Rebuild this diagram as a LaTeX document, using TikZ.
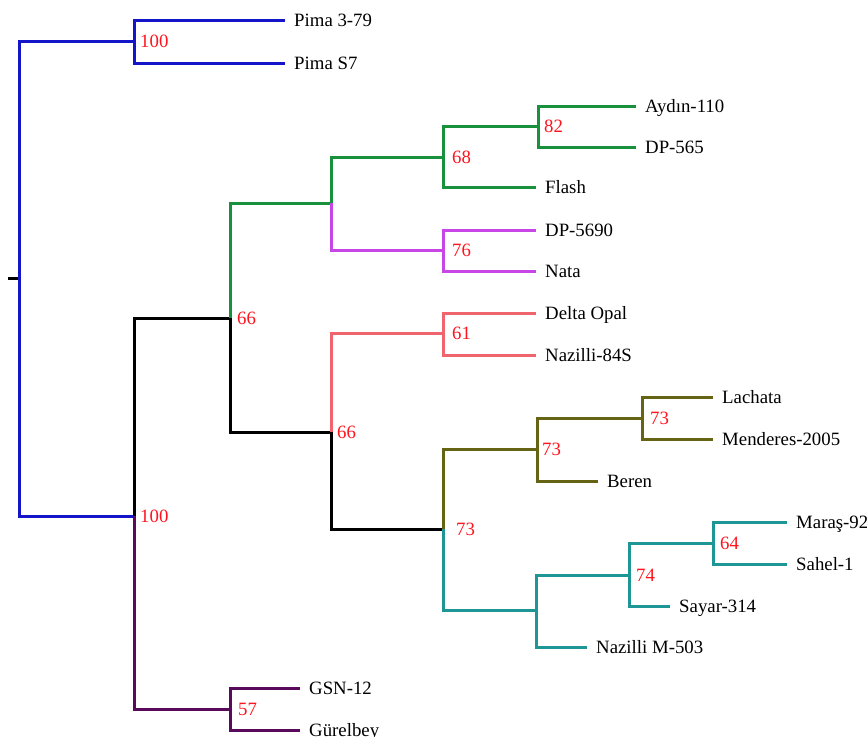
\documentclass[tikz,border=0pt]{standalone}
\usepackage{fontspec}
\setmainfont{Liberation Serif}
\definecolor{cblue}{RGB}{20,20,200}
\definecolor{cgreen}{RGB}{25,145,60}
\definecolor{cmag}{RGB}{200,70,230}
\definecolor{csalmon}{RGB}{240,100,110}
\definecolor{colive}{RGB}{100,100,20}
\definecolor{cteal}{RGB}{30,150,150}
\definecolor{cpurple}{RGB}{90,10,90}
\definecolor{cred}{RGB}{255,20,30}
\begin{document}
\begin{tikzpicture}[x=1pt,y=-1pt,
  br/.style={line width=3pt, line join=miter},
  lbl/.style={anchor=base west, inner sep=0pt, font=\fontsize{18.8}{20}\selectfont, yshift=-6pt},
  leaf/.style={lbl, xshift=9pt},
  bs/.style={lbl, text=cred, xshift=#1},
  bs/.default=7pt]
\useasboundingbox (0,0) rectangle (867,736);

% internal nodes
\coordinate (tick) at (8,278);
\coordinate (r)  at (19,278);
\coordinate (A)  at (134,41);
\coordinate (B)  at (134,516);
\coordinate (C)  at (230,318);
\coordinate (P)  at (230,709);
\coordinate (G)  at (331,203);
\coordinate (D)  at (331,432);
\coordinate (G1) at (443,157);
\coordinate (G2) at (538,126);
\coordinate (M)  at (443,250);
\coordinate (S)  at (443,333);
\coordinate (E)  at (443,529);
\coordinate (O)  at (537,449);
\coordinate (O2) at (642,418);
\coordinate (T)  at (536,610);
\coordinate (T2) at (629,575);
\coordinate (T3) at (713,543);

% leaf ends
\coordinate (l1)  at (285,20);
\coordinate (l2)  at (285,63);
\coordinate (l3)  at (636,106);
\coordinate (l4)  at (636,147);
\coordinate (l5)  at (536,187);
\coordinate (l6)  at (536,230);
\coordinate (l7)  at (536,271);
\coordinate (l8)  at (536,313);
\coordinate (l9)  at (536,355);
\coordinate (l10) at (713,397);
\coordinate (l11) at (713,439);
\coordinate (l12) at (598,481);
\coordinate (l13) at (787,522);
\coordinate (l14) at (787,564);
\coordinate (l15) at (670,606);
\coordinate (l16) at (587,647);
\coordinate (l17) at (300,688);
\coordinate (l18) at (300,730);

% branches
\draw[br,black] (tick) -- (r);
\draw[br,cblue] (r) |- (A);
\draw[br,cblue] (r) |- (B);
\draw[br,cblue] (A) |- (l1);
\draw[br,cblue] (A) |- (l2);
\draw[br,black] (B) |- (C);
\draw[br,cpurple] (B) |- (P);
\draw[br,cpurple] (P) |- (l17);
\draw[br,cpurple] (P) |- (l18);
\draw[br,cgreen] (C) |- (G);
\draw[br,black] (C) |- (D);
\draw[br,cgreen] (G) |- (G1);
\draw[br,cmag] (G) |- (M);
\draw[br,cgreen] (G1) |- (G2);
\draw[br,cgreen] (G1) |- (l5);
\draw[br,cgreen] (G2) |- (l3);
\draw[br,cgreen] (G2) |- (l4);
\draw[br,cmag] (M) |- (l6);
\draw[br,cmag] (M) |- (l7);
\draw[br,csalmon] (D) |- (S);
\draw[br,black] (D) |- (E);
\draw[br,csalmon] (S) |- (l8);
\draw[br,csalmon] (S) |- (l9);
\draw[br,colive] (E) |- (O);
\draw[br,cteal] (E) |- (T);
\draw[br,colive] (O) |- (O2);
\draw[br,colive] (O) |- (l12);
\draw[br,colive] (O2) |- (l10);
\draw[br,colive] (O2) |- (l11);
\draw[br,cteal] (T) |- (T2);
\draw[br,cteal] (T) |- (l16);
\draw[br,cteal] (T2) |- (T3);
\draw[br,cteal] (T2) |- (l15);
\draw[br,cteal] (T3) |- (l13);
\draw[br,cteal] (T3) |- (l14);

% taxon names
\node[leaf] (n1)  at (l1)  {Pima 3-79};
\node[leaf] (n2)  at (l2)  {Pima S7};
\node[leaf] (n3)  at (l3)  {Aydın-110};
\node[leaf] (n4)  at (l4)  {DP-565};
\node[leaf] (n5)  at (l5)  {Flash};
\node[leaf] (n6)  at (l6)  {DP-5690};
\node[leaf] (n7)  at (l7)  {Nata};
\node[leaf] (n8)  at (l8)  {Delta Opal};
\node[leaf] (n9)  at (l9)  {Nazilli-84S};
\node[leaf] (n10) at (l10) {Lachata};
\node[leaf] (n11) at (l11) {Menderes-2005};
\node[leaf] (n12) at (l12) {Beren};
\node[leaf] (n13) at (l13) {Maraş-92};
\node[leaf] (n14) at (l14) {Sahel-1};
\node[leaf] (n15) at (l15) {Sayar-314};
\node[leaf] (n16) at (l16) {Nazilli M-503};
\node[leaf] (n17) at (l17) {GSN-12};
\node[leaf] (n18) at (l18) {Gürelbey};

% bootstrap support values
\node[bs=6pt]  (bA)  at (A)  {100};
\node[bs=6pt]  (bB)  at (B)  {100};
\node[bs=8pt]  (bP)  at (P)  {57};
\node[bs=7pt]  (bC)  at (C)  {66};
\node[bs=6pt]  (bD)  at (D)  {66};
\node[bs=9pt]  (bG1) at (G1) {68};
\node[bs=6pt]  (bG2) at (G2) {82};
\node[bs=9pt]  (bM)  at (M)  {76};
\node[bs=9pt]  (bS)  at (S)  {61};
\node[bs=13pt] (bE)  at (E)  {73};
\node[bs=5pt]  (bO)  at (O)  {73};
\node[bs=8pt]  (bO2) at (O2) {73};
\node[bs=7pt]  (bT2) at (T2) {74};
\node[bs=7pt]  (bT3) at (T3) {64};
\end{tikzpicture}
\end{document}
